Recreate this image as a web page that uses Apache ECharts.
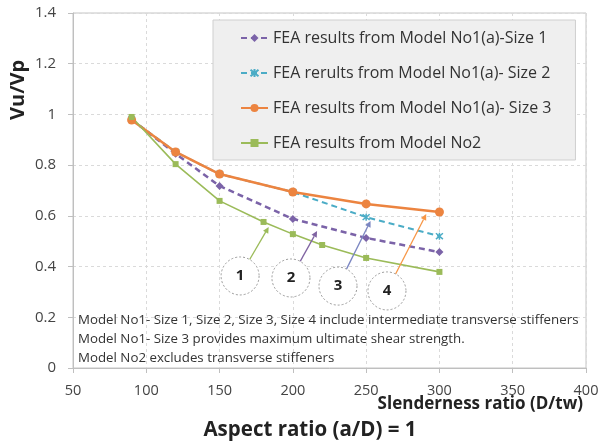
<!DOCTYPE html>
<html>
<head>
<meta charset="utf-8">
<script src="https://cdn.jsdelivr.net/npm/echarts@6/dist/echarts.min.js"></script>
<style>
  html, body { margin: 0; padding: 0; background: #fff; }
  #chart { width: 599px; height: 443px; }
</style>
</head>
<body>
<div id="chart"></div>
<script>
// Slenderness ratio (D/tw) on the x axis
const slenderness = [90, 120, 150, 200, 250, 300];
const slendernessNo2 = [90, 120, 150, 180, 200, 220, 250, 300];

// Vu/Vp for each model
const size1 = [0.98, 0.845, 0.718, 0.588, 0.513, 0.457];
const size2 = [0.98, 0.852, 0.765, 0.694, 0.595, 0.52];
const size3 = [0.978, 0.852, 0.765, 0.694, 0.647, 0.615];
const modelNo2 = [0.99, 0.804, 0.659, 0.576, 0.528, 0.485, 0.434, 0.379];

const seriesNames = [
  'FEA results from Model No1(a)-Size 1',
  'FEA rerults from Model No1(a)- Size 2',
  'FEA results from Model No1(a)- Size 3',
  'FEA results from Model No2'
];

const notes = [
  'Model No1- Size 1, Size 2, Size 3, Size 4 include intermediate transverse stiffeners',
  'Model No1- Size 3 provides maximum ultimate shear strength.',
  'Model No2 excludes transverse stiffeners'
];

// numbered callouts: label, bubble centre and arrow tip (data units)
const callouts = [
  { label: '1', at: [164, 0.363], tip: [183.5, 0.556], color: '#9bbb59' },
  { label: '2', at: [198.7, 0.355], tip: [216.5, 0.540], color: '#8064a2' },
  { label: '3', at: [230.8, 0.323], tip: [253, 0.580], color: '#7b86c2' },
  { label: '4', at: [264.2, 0.304], tip: [291, 0.607], color: '#f79646' }
];

const pair = (xs, ys) => xs.map((x, i) => [x, ys[i]]);
const FONT = '"Open Sans", "Liberation Sans", sans-serif';

const chart = echarts.init(document.getElementById('chart'), null, { renderer: 'canvas' });

const option = {
  animation: false,
  backgroundColor: '#ffffff',
  textStyle: { fontFamily: FONT },
  grid: {
    left: 73, right: 13, top: 13, bottom: 75,
    containLabel: false, outerBoundsMode: 'none',
    show: true, borderColor: '#c4c4c4', borderWidth: 1
  },
  legend: {
    orient: 'vertical',
    left: 213, top: 20,
    padding: [10, 24, 9, 27],
    itemGap: 19,
    itemWidth: 27, itemHeight: 10,
    backgroundColor: '#efefef',
    borderColor: '#cfcfcf', borderWidth: 1,
    textStyle: { fontSize: 16, color: '#333', fontFamily: FONT },
    data: seriesNames
  },
  xAxis: {
    type: 'value', min: 50, max: 400, interval: 50,
    axisLine: { show: true, lineStyle: { color: '#bfbfbf' } },
    axisTick: { show: true, length: 5, lineStyle: { color: '#bfbfbf' } },
    axisLabel: { fontSize: 14.5, color: '#444', margin: 15 },
    splitLine: { show: true, lineStyle: { color: '#dadada', type: [3, 3] } }
  },
  yAxis: {
    type: 'value', min: 0, max: 1.4, interval: 0.2,
    axisLine: { show: true, lineStyle: { color: '#bfbfbf' } },
    axisTick: { show: true, length: 5, lineStyle: { color: '#bfbfbf' } },
    axisLabel: {
      fontSize: 15, color: '#444', margin: 17,
      formatter: v => String(Math.round(v * 10) / 10)
    },
    splitLine: { show: true, lineStyle: { color: '#dadada', type: [3, 3] } }
  },
  series: [
    {
      name: seriesNames[0], type: 'line', data: pair(slenderness, size1),
      symbol: 'diamond', symbolSize: 8,
      lineStyle: { color: '#7b63a8', width: 2.5, type: [6, 4] },
      itemStyle: { color: '#7b63a8' }
    },
    {
      name: seriesNames[1], type: 'line', data: pair(slenderness, size2),
      symbol: 'path://M0,0L10,10M10,0L0,10M5,-1L5,11', symbolSize: 7,
      lineStyle: { color: '#4bacc6', width: 2, type: [6, 4] },
      itemStyle: { color: 'rgba(0,0,0,0)', borderColor: '#4bacc6', borderWidth: 1.5 }
    },
    {
      name: seriesNames[2], type: 'line', data: pair(slenderness, size3),
      symbol: 'circle', symbolSize: 9,
      lineStyle: { color: '#ec8440', width: 2.5 },
      itemStyle: { color: '#ec8440' }
    },
    {
      name: seriesNames[3], type: 'line', data: pair(slendernessNo2, modelNo2),
      symbol: 'rect', symbolSize: 6,
      lineStyle: { color: '#9bbb59', width: 1.6 },
      itemStyle: { color: '#9bbb59' }
    }
  ]
};

chart.setOption(option);

// overlay texts and numbered callouts
function buildGraphics() {
  const els = [];
  els.push({
    type: 'text', rotation: Math.PI / 2, x: 8, y: 120,
    style: { text: 'Vu/Vp', font: 'bold 20px ' + FONT, fill: '#222', verticalAlign: 'top' }
  });
  els.push({
    type: 'text', x: 583, y: 404,
    style: {
      text: 'Slenderness ratio (D/tw)', font: 'bold 17px ' + FONT, fill: '#222',
      align: 'right', verticalAlign: 'middle'
    }
  });
  els.push({
    type: 'text', x: 310, y: 430,
    style: {
      text: 'Aspect ratio (a/D) = 1', font: 'bold 20.5px ' + FONT, fill: '#222',
      align: 'center', verticalAlign: 'middle'
    }
  });
  notes.forEach((t, i) => {
    els.push({
      type: 'text', x: 78, y: 320 + i * 19,
      style: { text: t, font: '13.3px ' + FONT, fill: '#333', verticalAlign: 'middle' }
    });
  });
  callouts.forEach(c => {
    const p = chart.convertToPixel({ gridIndex: 0 }, c.at);
    const t = chart.convertToPixel({ gridIndex: 0 }, c.tip);
    const r = 19;
    const dx = t[0] - p[0], dy = t[1] - p[1];
    const len = Math.hypot(dx, dy);
    const ux = dx / len, uy = dy / len;
    const s = [p[0] + ux * r, p[1] + uy * r];
    const hl = 6, hw = 3;
    const base = [t[0] - ux * hl, t[1] - uy * hl];
    els.push({
      type: 'line', z: 10,
      shape: { x1: s[0], y1: s[1], x2: base[0], y2: base[1] },
      style: { stroke: c.color, lineWidth: 1.3 }
    });
    els.push({
      type: 'polygon', z: 10,
      shape: { points: [t, [base[0] - uy * hw, base[1] + ux * hw], [base[0] + uy * hw, base[1] - ux * hw]] },
      style: { fill: c.color }
    });
    els.push({
      type: 'circle', z: 10,
      shape: { cx: p[0], cy: p[1], r: r },
      style: { fill: '#fff', stroke: '#9a9a9a', lineWidth: 1, lineDash: [2, 2] }
    });
    els.push({
      type: 'text', z: 11, x: p[0], y: p[1],
      style: {
        text: c.label, font: 'bold 15px ' + FONT, fill: '#222',
        align: 'center', verticalAlign: 'middle'
      }
    });
  });
  return els;
}

chart.setOption({ graphic: buildGraphics() });
</script>
</body>
</html>
